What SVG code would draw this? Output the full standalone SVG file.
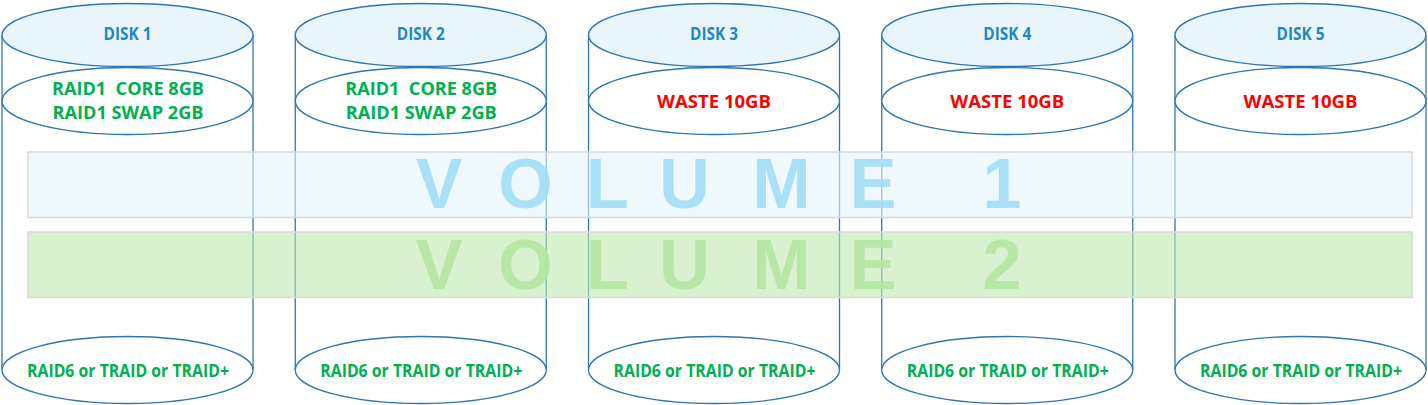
<svg xmlns="http://www.w3.org/2000/svg" width="1428" height="405" viewBox="0 0 1428 405">
<style>
.edge{stroke:#2E75B6;stroke-width:1.3;fill:none}
.top{fill:#E8F5FB;stroke:#2E75B6;stroke-width:1.3}
.mid{fill:#FFFFFF;stroke:#2E75B6;stroke-width:1.3}
.lbl{font-family:"Open Sans","Liberation Sans",sans-serif;font-weight:bold;font-size:17px;text-anchor:middle}
.disk{fill:#1F88C2}
.green{fill:#00B050}
.red{fill:#FF0000}
.vol{font-family:"Liberation Sans","Open Sans",sans-serif;font-weight:bold;font-size:70px;text-anchor:middle}
</style>
<defs>
<g id="cyl">
<line class="edge" x1="-125.5" y1="35" x2="-125.5" y2="370"/>
<line class="edge" x1="125.5" y1="35" x2="125.5" y2="370"/>
<ellipse class="mid" cx="0" cy="370" rx="125.5" ry="33.5"/>
<ellipse class="mid" cx="0" cy="101" rx="125.5" ry="33.5"/>
<ellipse class="top" cx="0" cy="35" rx="125.5" ry="31.5"/>
</g>
</defs>
<g id="disk1">
<use href="#cyl" x="127.5"/>
<text class="lbl disk" x="127.5" y="40" textLength="48" lengthAdjust="spacingAndGlyphs">DISK 1</text>
<text class="lbl green" x="128" y="95" textLength="152" lengthAdjust="spacingAndGlyphs" xml:space="preserve">RAID1  CORE 8GB</text>
<text class="lbl green" x="128" y="119" textLength="151" lengthAdjust="spacingAndGlyphs">RAID1 SWAP 2GB</text>
<text class="lbl green" x="128" y="377" textLength="202" lengthAdjust="spacingAndGlyphs">RAID6 or TRAID or TRAID+</text>
</g>
<g id="disk2">
<use href="#cyl" x="420.75"/>
<text class="lbl disk" x="420.75" y="40" textLength="48" lengthAdjust="spacingAndGlyphs">DISK 2</text>
<text class="lbl green" x="421.25" y="95" textLength="152" lengthAdjust="spacingAndGlyphs" xml:space="preserve">RAID1  CORE 8GB</text>
<text class="lbl green" x="421.25" y="119" textLength="151" lengthAdjust="spacingAndGlyphs">RAID1 SWAP 2GB</text>
<text class="lbl green" x="421.25" y="377" textLength="202" lengthAdjust="spacingAndGlyphs">RAID6 or TRAID or TRAID+</text>
</g>
<g id="disk3">
<use href="#cyl" x="714"/>
<text class="lbl disk" x="714" y="40" textLength="48" lengthAdjust="spacingAndGlyphs">DISK 3</text>
<text class="lbl red" x="714" y="108" textLength="114" lengthAdjust="spacingAndGlyphs">WASTE 10GB</text>
<text class="lbl green" x="714.5" y="377" textLength="202" lengthAdjust="spacingAndGlyphs">RAID6 or TRAID or TRAID+</text>
</g>
<g id="disk4">
<use href="#cyl" x="1007.25"/>
<text class="lbl disk" x="1007.25" y="40" textLength="48" lengthAdjust="spacingAndGlyphs">DISK 4</text>
<text class="lbl red" x="1007.25" y="108" textLength="114" lengthAdjust="spacingAndGlyphs">WASTE 10GB</text>
<text class="lbl green" x="1007.75" y="377" textLength="202" lengthAdjust="spacingAndGlyphs">RAID6 or TRAID or TRAID+</text>
</g>
<g id="disk5">
<use href="#cyl" x="1300.5"/>
<text class="lbl disk" x="1300.5" y="40" textLength="48" lengthAdjust="spacingAndGlyphs">DISK 5</text>
<text class="lbl red" x="1300.5" y="108" textLength="114" lengthAdjust="spacingAndGlyphs">WASTE 10GB</text>
<text class="lbl green" x="1301" y="377" textLength="202" lengthAdjust="spacingAndGlyphs">RAID6 or TRAID or TRAID+</text>
</g>
<g id="volume1">
<rect x="28" y="152" width="1384" height="65.5" fill="#E3F3FC" fill-opacity="0.6" stroke="#D9D9D9" stroke-width="1.5"/>
<text class="vol" fill="#A0DDF6" fill-opacity="0.9" x="439 525.5 607.5 684.5 781.5 873 1002" y="208">VOLUME1</text>
</g>
<g id="volume2">
<rect x="28" y="232" width="1384" height="65.5" fill="#BEE8AF" fill-opacity="0.6" stroke="#D9D9D9" stroke-width="1.5"/>
<text class="vol" fill="#B3E59F" fill-opacity="0.9" x="439 525.5 607.5 684.5 781.5 873 1002" y="289">VOLUME2</text>
</g>
</svg>
